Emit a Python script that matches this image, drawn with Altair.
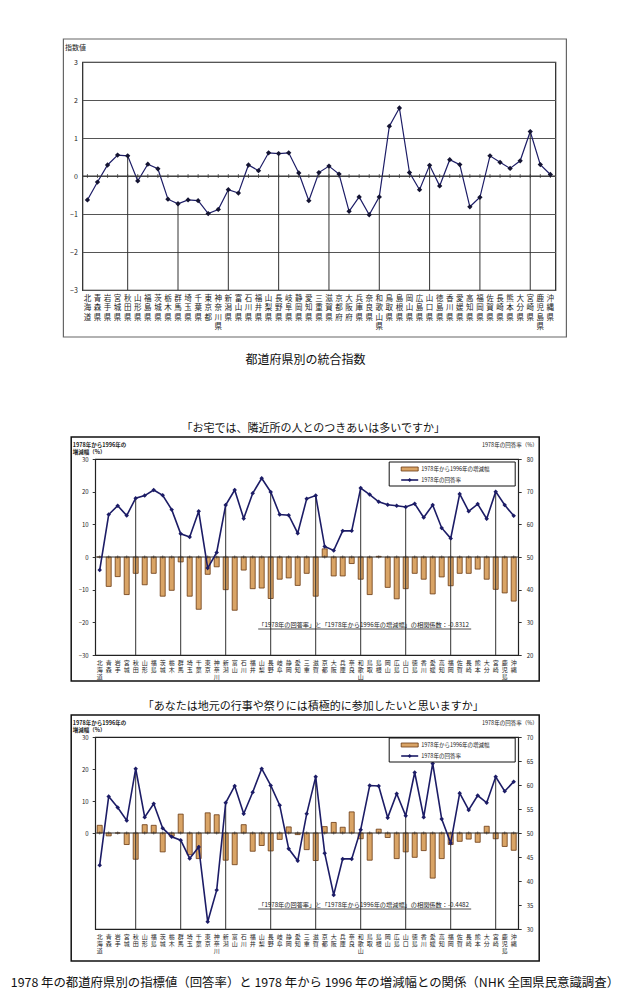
import altair as alt
import pandas as pd

FONT = 'Noto Sans CJK JP'
LINE = '#1c1c66'
BAR_FILL = '#d9a466'
BAR_EDGE = '#6a3912'

prefs = ['北海道', '青森', '岩手', '宮城', '秋田', '山形', '福島', '茨城', '栃木', '群馬',
         '埼玉', '千葉', '東京', '神奈川', '新潟', '富山', '石川', '福井', '山梨', '長野',
         '岐阜', '静岡', '愛知', '三重', '滋賀', '京都', '大阪', '兵庫', '奈良', '和歌山',
         '鳥取', '島根', '岡山', '広島', '山口', '徳島', '香川', '愛媛', '高知', '福岡',
         '佐賀', '長崎', '熊本', '大分', '宮崎', '鹿児島', '沖縄']
pref_full = ['北海道', '青森県', '岩手県', '宮城県', '秋田県', '山形県', '福島県', '茨城県', '栃木県', '群馬県',
             '埼玉県', '千葉県', '東京都', '神奈川県', '新潟県', '富山県', '石川県', '福井県', '山梨県', '長野県',
             '岐阜県', '静岡県', '愛知県', '三重県', '滋賀県', '京都府', '大阪府', '兵庫県', '奈良県', '和歌山県',
             '鳥取県', '島根県', '岡山県', '広島県', '山口県', '徳島県', '香川県', '愛媛県', '高知県', '福岡県',
             '佐賀県', '長崎県', '熊本県', '大分県', '宮崎県', '鹿児島県', '沖縄県']
drop_prefs = ['秋田', '群馬', '新潟', '長野', '滋賀', '和歌山', '山口', '福岡', '宮崎']

# 統合指数
index_values = [-0.63, -0.16, 0.29, 0.55, 0.53, -0.13, 0.31, 0.19, -0.61, -0.73,
                -0.63, -0.65, -0.99, -0.88, -0.36, -0.45, 0.29, 0.14, 0.61, 0.59,
                0.61, 0.08, -0.65, 0.09, 0.26, 0.05, -0.93, -0.55, -1.02, -0.55,
                1.31, 1.79, 0.09, -0.36, 0.28, -0.26, 0.43, 0.30, -0.81, -0.56,
                0.53, 0.36, 0.20, 0.40, 1.17, 0.30, 0.04]

# 隣近所とのつきあい
near_change = [0.0, -9.0, -6.0, -11.5, -5.0, -8.5, -5.0, -12.0, -10.2, -1.5,
               -12.0, -16.0, -5.3, -3.0, -10.0, -16.3, -4.0, -9.7, -9.5, -12.7,
               -6.8, -6.4, -8.7, -5.0, -12.0, 2.5, -5.8, -5.8, -2.0, -6.8,
               -11.5, 0.2, -9.3, -12.8, -9.7, -5.0, -6.8, -11.3, -6.1, -8.8,
               -5.0, -5.0, -3.7, -6.8, -9.9, -11.0, -13.5]
near_rate = [46.0, 63.0, 65.7, 62.7, 68.0, 68.8, 70.5, 68.9, 64.5, 57.1,
             56.1, 64.0, 46.6, 51.4, 65.9, 70.5, 61.8, 69.5, 74.1, 69.9,
             63.0, 62.8, 57.3, 67.8, 68.8, 53.2, 52.0, 58.0, 58.0, 71.1,
             69.1, 66.9, 66.0, 65.7, 65.3, 66.3, 62.1, 65.9, 58.9, 55.7,
             69.3, 64.0, 66.2, 61.7, 70.0, 65.9, 62.6]

# 地元の行事や祭り
fest_change = [2.4, -0.9, 0.0, -3.6, -8.2, 2.6, 2.4, -5.9, -1.0, 5.9,
               -6.8, -8.0, 6.3, 5.7, -8.5, -9.9, 2.6, -5.7, -3.9, -5.6,
               -2.0, 1.9, -0.5, -5.2, -8.6, 2.0, 3.3, 1.8, 6.6, -1.8,
               -8.5, 1.2, -1.4, -8.0, -5.9, -7.6, -5.5, -14.1, -8.0, -3.6,
               -2.6, -1.9, -2.9, 2.1, -1.8, -4.2, -5.4]
fest_rate = [43.3, 57.6, 55.3, 52.6, 63.4, 53.3, 56.1, 51.0, 49.2, 48.5,
             44.7, 47.1, 31.5, 38.1, 56.3, 59.8, 54.0, 58.5, 63.4, 59.9,
             55.8, 46.7, 44.2, 54.0, 61.7, 45.8, 37.1, 44.6, 44.6, 50.7,
             59.9, 59.8, 53.2, 58.2, 53.6, 62.6, 53.3, 64.5, 52.9, 47.9,
             58.3, 54.8, 57.8, 56.3, 61.7, 58.7, 60.7]

one = pd.DataFrame({'k': [0]})


def box(x1, x2, y1, y2, color='#111', width=1.5):
    return alt.Chart(one).mark_rect(filled=False, stroke=color, strokeWidth=width).encode(
        x=alt.value(x1), x2=alt.value(x2), y=alt.value(y1), y2=alt.value(y2))


def spacer(x1, x2, y1, y2):
    # レイアウト用の見えない矩形
    return alt.Chart(one).mark_rect(opacity=0).encode(
        x=alt.value(x1), x2=alt.value(x2), y=alt.value(y1), y2=alt.value(y2))


def label(text, x, y, size=6, align='left', color='#222'):
    return alt.Chart(one).mark_text(text=text, align=align, baseline='middle', fontSize=size,
                                    color=color, font=FONT).encode(x=alt.value(x), y=alt.value(y))


# ---- 統合指数 ----
TW, TH = 473, 228
top_df = pd.DataFrame({'pref': pref_full, 'short': prefs, 'value': index_values})
x_top = alt.X('pref:N', sort=pref_full, title=None,
              axis=alt.Axis(labelExpr="split(datum.label, '')", labelAngle=0, labelFontSize=7.5,
                            labelLineHeight=9.5, labelBaseline='top', labelPadding=4, ticks=False,
                            domain=False, labelColor='#222'))
y_top = alt.Y('value:Q', scale=alt.Scale(domain=[-3, 3]),
              axis=alt.Axis(values=[-3, -2, -1, 0, 1, 2, 3], title='指数値', titleAngle=0,
                            titleAlign='left', titleBaseline='middle', titleX=-18, titleY=-15,
                            titleFontSize=7, titleFontWeight='normal', labelFontSize=7,
                            ticks=False, labelPadding=5, domain=False, grid=True,
                            gridColor='#555', gridWidth=1))

top_base = alt.Chart(top_df)
zero_top = top_base.transform_calculate(value='0')
top = alt.layer(
    top_base.mark_line(color=LINE, strokeWidth=1.2).encode(x=x_top, y=y_top),
    alt.Chart(pd.DataFrame({'value': [0]})).mark_rule(color='#333').encode(y=y_top),
    zero_top.mark_tick(orient='vertical', size=4, thickness=1, color='#333').encode(x=x_top, y=y_top),
    top_base.transform_filter(alt.FieldOneOfPredicate(field='short', oneOf=drop_prefs))
    .mark_rule(color='#333').encode(x=x_top, y=y_top, y2=alt.datum(-3)),
    top_base.mark_point(shape='diamond', filled=True, size=28, color='#141433', opacity=1).encode(x=x_top, y=y_top),
    box(-19, TW + 11, -23, TH + 47, color='#666', width=1.2),
    label('都道府県別の統合指数', 223, TH + 70, size=12, align='center', color='#111'),
).properties(width=TW, height=TH)


# ---- アンケート項目 ----
PW = 423


def survey(title, ph, frame_bottom, top_space, change, rate, rmin, rmax, rvalues, lvalues, note,
           leg_y, note_y):
    df = pd.DataFrame({'pref': prefs, 'change': change, 'rate': rate})
    base = alt.Chart(df)
    x = alt.X('pref:N', sort=prefs, title=None,
              scale=alt.Scale(paddingInner=0, paddingOuter=0),
              axis=alt.Axis(labelExpr="split(datum.label, '')", labelAngle=0, labelFontSize=6,
                            labelLineHeight=7.2, labelBaseline='top', labelPadding=4, ticks=False,
                            domain=False, labelColor='#222'))
    y_left = alt.Y('change:Q', scale=alt.Scale(domain=[-30, 30]),
                   axis=alt.Axis(values=lvalues, title=['1978年から1996年の', '増減幅（%）'],
                                 titleAngle=0, titleAlign='left', titleBaseline='bottom',
                                 titleX=-23, titleY=-12, titleFontSize=5.5, titleFontWeight='bold',
                                 titleLineHeight=7.5, labelFontSize=6, tickSize=3, labelPadding=4,
                                 domain=False, grid=False))
    y_right = alt.Y('rate:Q', scale=alt.Scale(domain=[rmin, rmax]),
                    axis=alt.Axis(orient='right', values=rvalues, title='1978年の回答率（%）',
                                  titleAngle=0, titleAlign='right', titleBaseline='middle',
                                  titleX=19, titleY=-15, titleFontSize=5.5, titleFontWeight='normal',
                                  labelFontSize=6, tickSize=3, labelPadding=5, domain=False,
                                  grid=False))
    left = alt.layer(
        base.mark_bar(size=5, fill=BAR_FILL, stroke=BAR_EDGE, strokeWidth=0.8).encode(x=x, y=y_left),
        alt.Chart(pd.DataFrame({'change': [0]})).mark_rule(color='#333').encode(y=y_left),
        base.transform_calculate(change='0').mark_tick(orient='vertical', size=3, thickness=1,
                                                       color='#333').encode(x=x, y=y_left),
    )
    right = alt.layer(
        base.transform_filter(alt.FieldOneOfPredicate(field='pref', oneOf=drop_prefs))
        .mark_rule(color='#333').encode(x=x, y=y_right, y2=alt.datum(rmin)),
        base.mark_line(color=LINE, strokeWidth=1.6).encode(x=x, y=y_right),
        base.mark_point(shape='diamond', filled=True, size=20, color=LINE, opacity=1).encode(x=x, y=y_right),
        # 凡例
        alt.Chart(one).mark_rect(fill='white', stroke='#111', strokeWidth=1).encode(
            x=alt.value(294), x2=alt.value(420), y=alt.value(leg_y), y2=alt.value(leg_y + 24)),
        alt.Chart(one).mark_rect(fill=BAR_FILL, stroke=BAR_EDGE, strokeWidth=0.8).encode(
            x=alt.value(306), x2=alt.value(323), y=alt.value(leg_y + 5), y2=alt.value(leg_y + 9)),
        alt.Chart(one).mark_rule(color=LINE, strokeWidth=1.6).encode(
            x=alt.value(306), x2=alt.value(323), y=alt.value(leg_y + 18)),
        alt.Chart(one).mark_point(shape='diamond', filled=True, size=16, color=LINE, opacity=1).encode(
            x=alt.value(314.5), y=alt.value(leg_y + 18)),
        label('1978年から1996年の増減幅', 326, leg_y + 7, size=5.5),
        label('1978年の回答率', 326, leg_y + 18, size=5.5),
        # 相関係数
        label(note, 163, note_y, size=6.2),
        alt.Chart(one).mark_rule(color='#222', strokeWidth=0.8).encode(
            x=alt.value(163), x2=alt.value(376), y=alt.value(note_y + 4)),
        box(-24, PW + 21, -22, ph + frame_bottom),
        label(title, 218, -30, size=11, align='center', color='#111'),
        spacer(-24, PW + 36, -top_space, -top_space + 1),
    )
    return alt.layer(left, right).resolve_scale(y='independent').properties(width=PW, height=ph)


near = survey('「お宅では、隣近所の人とのつきあいは多いですか」', 196, 26, 74,
              near_change, near_rate, 20, 80, [20, 30, 40, 50, 60, 70, 80],
              [-30, -20, -10, 0, 10, 20, 30],
              '「1978年の回答率」と「1978年から1996年の増減幅」の相関係数：-0.8312', 3, 166)
fest = survey('「あなたは地元の行事や祭りには積極的に参加したいと思いますか」', 192, 32, 36,
              fest_change, fest_rate, 30, 70, [30, 35, 40, 45, 50, 55, 60, 65, 70], [0, 10, 20, 30],
              '「1978年の回答率」と「1978年から1996年の増減幅」の相関係数：-0.4482', 1, 168)

chart = alt.vconcat(top, near, fest, spacing=17, center=True).properties(
    title=alt.TitleParams('1978 年の都道府県別の指標値（回答率）と 1978 年から 1996 年の増減幅との関係（NHK 全国県民意識調査）',
                          orient='bottom', anchor='middle', fontSize=12.4, fontWeight='normal', offset=15),
    padding={'left': 2, 'top': 29, 'right': 2, 'bottom': 2},
).configure(font=FONT).configure_view(stroke='#222', strokeWidth=1.2).configure_axis(
    labelFont=FONT, titleFont=FONT, labelColor='#222', titleColor='#222', tickColor='#333',
    labelOverlap=False
).configure_title(font=FONT, color='#111')

chart.save("out.html", embed_options={"renderer": "svg", "actions": False})
